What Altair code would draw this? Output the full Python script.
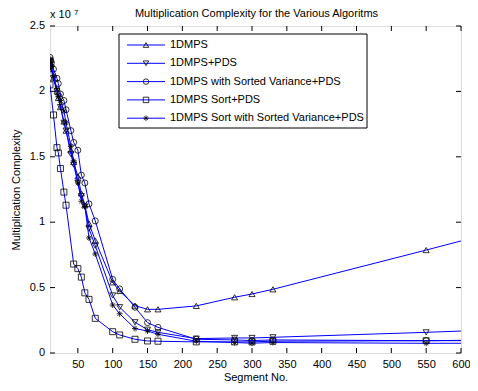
import altair as alt
import pandas as pd

FONT = "Liberation Sans"

chart_title = "Multiplication Complexity for the Various Algoritms"
series_names = [
    "1DMPS",
    "1DMPS+PDS",
    "1DMPS with Sorted Variance+PDS",
    "1DMPS Sort+PDS",
    "1DMPS Sort with Sorted Variance+PDS",
]
ASTERISK = "M-1,0L1,0M0,-1L0,1M-0.7,-0.7L0.7,0.7M-0.7,0.7L0.7,-0.7"
series_shapes = ["triangle-up", "triangle-down", "circle", "square", ASTERISK]

seg = [10, 11, 12, 15, 20, 22, 25, 30, 33, 40, 44, 50, 55, 60, 66, 75,
       100, 110, 132, 150, 165, 220, 275, 300, 330, 550, 660]
seg_sort = [10, 15, 20, 22, 25, 30, 33, 44, 50, 55, 60, 66, 75,
            100, 110, 132, 150, 165, 220, 275, 300, 330, 550, 660]

y_1dmps = [2.22, 2.20, 2.17, 2.10, 2.00, 1.95, 1.88, 1.77, 1.70, 1.55, 1.46, 1.35, 1.22, 1.13, 0.99, 0.86,
           0.54, 0.474, 0.362, 0.334, 0.334, 0.36, 0.426, 0.451, 0.487, 0.787, 0.94]
y_pds = [2.23, 2.21, 2.18, 2.10, 2.00, 1.96, 1.88, 1.76, 1.70, 1.52, 1.44, 1.30, 1.20, 1.12, 0.95, 0.82,
         0.44, 0.35, 0.235, 0.178, 0.158, 0.11, 0.115, 0.115, 0.12, 0.158, 0.18]
y_sv_pds = [2.26, 2.24, 2.22, 2.17, 2.10, 2.06, 1.98, 1.93, 1.86, 1.70, 1.61, 1.55, 1.36, 1.30, 1.14, 1.01,
            0.563, 0.49, 0.35, 0.232, 0.196, 0.105, 0.10, 0.095, 0.10, 0.094, 0.10]
y_sort_pds = [2.05, 1.82, 1.57, 1.53, 1.41, 1.23, 1.13, 0.68, 0.645, 0.58, 0.46, 0.41, 0.265,
              0.163, 0.138, 0.105, 0.092, 0.09, 0.085, 0.085, 0.085, 0.09, 0.094, 0.095]
y_sort_sv_pds = [2.24, 2.22, 2.19, 2.12, 2.02, 1.96, 1.93, 1.85, 1.76, 1.58, 1.47, 1.30, 1.16, 1.12, 0.88, 0.757,
                 0.367, 0.30, 0.187, 0.168, 0.143, 0.09, 0.08, 0.075, 0.08, 0.074, 0.075]

x_ticks = [50, 100, 150, 200, 250, 300, 350, 400, 450, 500, 550, 600]
y_ticks = [0, 0.5, 1, 1.5, 2, 2.5]
y_tick_labels = ["0", "0.5", "1", "1.5", "2", "2.5"]

xs = [seg, seg, seg, seg_sort, seg]
ys = [y_1dmps, y_pds, y_sv_pds, y_sort_pds, y_sort_sv_pds]
rows = []
for name, xv, yv in zip(series_names, xs, ys):
    for a, b in zip(xv, yv):
        rows.append({"series": name, "seg": a, "val": b})
df = pd.DataFrame(rows)

W, H = 411, 327
xscale = alt.Scale(domain=[10, 600], nice=False, zero=False)
yscale = alt.Scale(domain=[0, 2.5], nice=False)
xaxis = alt.Axis(values=x_ticks, ticks=False, tickSize=0, domain=False, grid=False,
                 labelFont=FONT, labelFontSize=11, labelColor="black", labelPadding=5,
                 titleFont=FONT, titleFontSize=11, titleFontWeight="normal", titleColor="black",
                 titlePadding=2, labelFlush=False, labelOverlap=False)
yaxis = alt.Axis(values=y_ticks, ticks=False, tickSize=0, domain=False, grid=False, labels=False,
                 titleFont=FONT, titleFontSize=11, titleFontWeight="normal", titleColor="black",
                 titlePadding=29)

def X(f):
    return alt.X(f, scale=xscale, axis=xaxis, title="Segment No.")

def Y(f):
    return alt.Y(f, scale=yscale, axis=yaxis, title="Multiplication Complexity")

layers = []
for i, name in enumerate(series_names):
    sub = df[df.series == name]
    base = alt.Chart(sub)
    layers.append(base.mark_line(color="#0000ff", strokeWidth=1, clip=True).encode(
        x=X("seg:Q"), y=Y("val:Q"), order="seg:Q"))
    layers.append(base.mark_point(filled=False, color="black", strokeWidth=0.8, size=36,
                                  opacity=1, clip=True, shape=series_shapes[i]).encode(
        x=X("seg:Q"), y=Y("val:Q")))

xt = alt.Chart(pd.DataFrame({"t": x_ticks}))
yt = alt.Chart(pd.DataFrame({"t": y_ticks, "lab": y_tick_labels}))
layers.append(xt.mark_rule(color="black", strokeWidth=1).encode(x=X("t:Q"), y=alt.value(H), y2=alt.value(H - 5)))
layers.append(xt.mark_rule(color="black", strokeWidth=1).encode(x=X("t:Q"), y=alt.value(0), y2=alt.value(5)))
layers.append(yt.mark_rule(color="black", strokeWidth=1).encode(y=Y("t:Q"), x=alt.value(0), x2=alt.value(5)))
layers.append(yt.mark_rule(color="black", strokeWidth=1).encode(y=Y("t:Q"), x=alt.value(W), x2=alt.value(W - 5)))

one = alt.Chart(pd.DataFrame({"a": [0]}))

# legend
LX0, LX1, LY0, LY1 = 69, 317, 8, 102
layers.append(one.mark_rect(fill="white", stroke="black", strokeWidth=1).encode(
    x=alt.value(LX0), x2=alt.value(LX1), y=alt.value(LY0), y2=alt.value(LY1)))
for i, name in enumerate(series_names):
    ly = 19 + i * 18.3
    layers.append(one.mark_rule(color="#0000ff", strokeWidth=1).encode(
        x=alt.value(77), x2=alt.value(115), y=alt.value(ly)))
    layers.append(one.mark_point(filled=False, color="black", strokeWidth=0.8, size=30, opacity=1,
                                 shape=series_shapes[i]).encode(x=alt.value(96), y=alt.value(ly)))
    layers.append(one.mark_text(text=name, font=FONT, fontSize=11, align="left", baseline="middle",
                                color="black").encode(x=alt.value(120), y=alt.value(ly)))

# texts drawn last
layers.append(yt.mark_text(font=FONT, fontSize=11, align="right", baseline="middle", color="black").encode(
    y=Y("t:Q"), x=alt.value(-5), text="lab:N"))
layers.append(one.mark_text(text="x 10", font=FONT, fontSize=11, align="left", baseline="alphabetic",
                            color="black").encode(x=alt.value(0), y=alt.value(-8)))
layers.append(one.mark_text(text="7", font=FONT, fontSize=8, align="left", baseline="alphabetic",
                            color="black").encode(x=alt.value(24), y=alt.value(-11)))
layers.append(one.mark_text(text=chart_title, font=FONT, fontSize=11, align="center", baseline="alphabetic",
                            color="black").encode(x=alt.value(W / 2 + 1), y=alt.value(-9)))

chart = alt.layer(*layers).properties(
    width=W, height=H,
    autosize=alt.AutoSizeParams(type="none"),
    padding={"left": 42, "top": 18, "right": 9, "bottom": 30},
).configure_view(stroke="black", strokeWidth=1).configure(background="white")

chart.save("out.html", embed_options={"renderer": "svg", "actions": False})
